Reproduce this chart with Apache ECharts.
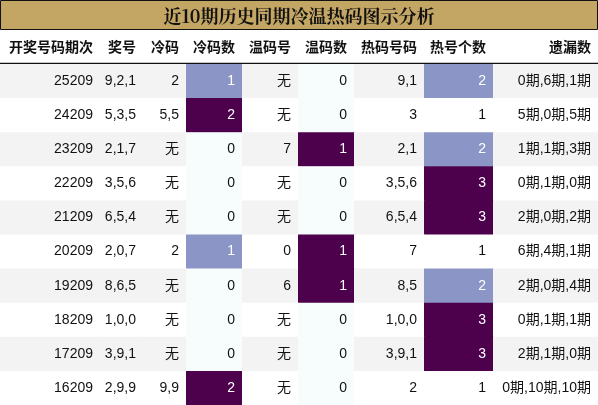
<!DOCTYPE html><html><head><meta charset="utf-8">
<script src="https://cdn.jsdelivr.net/npm/echarts@6/dist/echarts.min.js"></script>
<style>html,body{margin:0;padding:0;background:#fff}#c{width:598px;height:405px}</style></head><body><div id="c"></div>
<script>
const headers=['开奖号码期次','奖号','冷码','冷码数','温码号','温码数','热码号码','热号个数','遗漏数'];
const periods=['25209','24209','23209','22209','21209','20209','19209','18209','17209','16209'];
const prizes=['9,2,1','5,3,5','2,1,7','3,5,6','6,5,4','2,0,7','8,6,5','1,0,0','3,9,1','2,9,9'];
const coldCodes=['2','5,5','无','无','无','2','无','无','无','9,9'];
const coldCounts=[1,2,0,0,0,1,0,0,0,2];
const warmCodes=['无','无','7','无','无','0','6','无','无','无'];
const warmCounts=[0,0,1,0,0,1,1,0,0,0];
const hotCodes=['9,1','3','2,1','3,5,6','6,5,4','7','8,5','1,0,0','3,9,1','2'];
const hotCounts=[2,1,2,3,3,1,2,3,3,1];
const misses=['0期,6期,1期','5期,0期,5期','1期,1期,3期','0期,1期,0期','2期,0期,2期','6期,4期,1期','2期,0期,4期','0期,1期,1期','2期,1期,0期','0期,10期,10期'];

const edges=[0,100,143,186,242,298,354,424,493,598];
const cols=[periods,prizes,coldCodes,coldCounts,warmCodes,warmCounts,hotCodes,hotCounts,misses];
function countColor(c,v){
  if(c===3){return v===0?'#f7fcfd':v===1?'#8c96c6':'#4d004b';}
  if(c===5){return v===0?'#f7fcfd':'#4d004b';}
  if(c===7){return v===1?null:v===2?'#8c96c6':'#4d004b';}
  return null;
}
const data=[];
for(let r=0;r<10;r++)for(let c=0;c<9;c++)data.push([c,r,String(cols[c][r])]);
const chart=echarts.init(document.getElementById('c'));
const font='"Liberation Sans","Noto Sans CJK SC",sans-serif';
chart.setOption({
  animation:false,
  grid:{left:0,right:0,top:64,bottom:0},
  xAxis:{type:'value',min:0,max:598,show:false},
  yAxis:{type:'category',data:periods,inverse:true,show:false},
  series:[{type:'custom',data:data,renderItem:function(params,api){
    const c=api.value(0),r=api.value(1),txt=cols[c][r];
    const p0=api.coord([edges[c],r]),p1=api.coord([edges[c+1],r]);
    const h=api.size([0,1])[1];
    const y0=p0[1]-h/2;
    let fill=r%2===0?'#f3f3f3':'#ffffff';
    const cc=countColor(c,cols[c][r]);
    if(cc)fill=cc;
    const dark=(cc==='#8c96c6'||cc==='#4d004b');
    return {type:'group',children:[
      {type:'rect',shape:{x:p0[0],y:y0,width:p1[0]-p0[0]+0.5,height:h+0.5},style:{fill:fill}},
      {type:'text',style:{x:p1[0]-7,y:p0[1],text:String(txt),textAlign:'right',textVerticalAlign:'middle',fill:dark?'#ffffff':'#111111',font:'14px '+font}}
    ]};
  }}],
  graphic:[
    {type:'rect',shape:{x:0.5,y:0.5,width:597,height:29},style:{fill:'#c4a664',stroke:'#111',lineWidth:1}},
    {type:'text',style:{x:299,y:16,text:'近10期历史同期冷温热码图示分析',textAlign:'center',textVerticalAlign:'middle',fill:'#111',font:'bold 18px "Noto Serif CJK SC","Noto Sans CJK SC",serif'}},
    {type:'line',shape:{x1:0,y1:63.5,x2:598,y2:63.5},style:{stroke:'#111',lineWidth:1.5}}
  ].concat(headers.map((h,i)=>({type:'text',style:{x:edges[i+1]-7,y:47,text:h,textAlign:'right',textVerticalAlign:'middle',fill:'#111',font:'bold 14px "Noto Sans CJK SC",sans-serif'}})))
});
</script></body></html>
